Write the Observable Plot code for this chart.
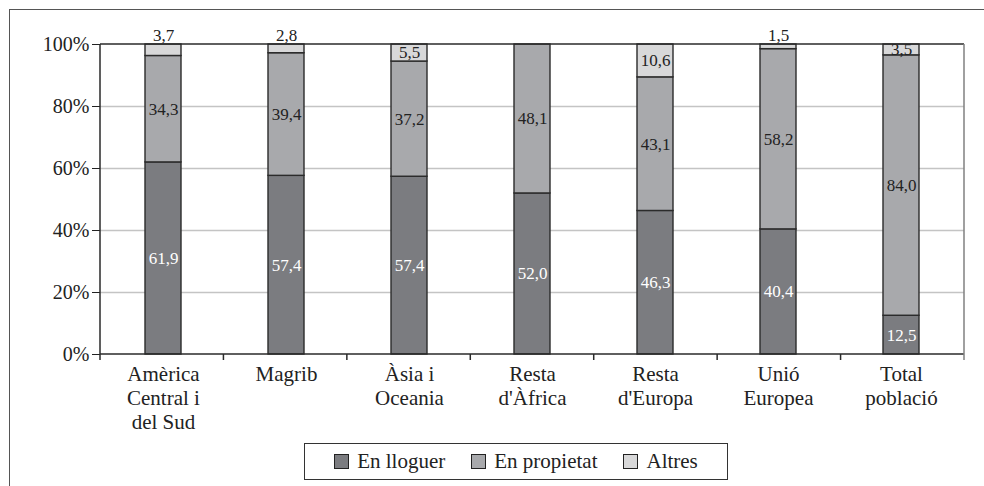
<!DOCTYPE html>
<html><head><meta charset="utf-8">
<style>
body{margin:0;background:#fff;overflow:hidden;}
#wrap{position:relative;width:984px;height:486px;overflow:hidden;background:#fff;}
#wrap, #wrap *{font-family:'Liberation Serif','DejaVu Serif','Noto Serif CJK SC',serif !important;}
#frame{position:absolute;left:9px;top:9px;width:1200px;height:1200px;border-top:1.5px solid #555;border-left:1.5px solid #555;pointer-events:none;}
#chart{position:absolute;left:0;top:0;}
#legend{position:absolute;left:304px;top:443px;width:424px;height:37px;border:1.5px solid #333;box-sizing:border-box;display:flex;align-items:center;justify-content:center;gap:26px;font-size:21px;color:#222;background:#fff;}
.item{display:flex;align-items:center;gap:8px}
.sw{width:15px;height:15px;border:1.3px solid #222;box-sizing:border-box}
</style>
<script src="https://cdn.jsdelivr.net/npm/d3@7"></script>
<script src="https://cdn.jsdelivr.net/npm/@observablehq/plot@0.6"></script>
</head>
<body>
<div id="wrap"><div id="chart"></div><div id="frame"></div><div id="legend"></div></div>
<script>
const categories = ["Amèrica Central i del Sud","Magrib","Àsia i Oceania","Resta d'Àfrica","Resta d'Europa","Unió Europea","Total població"];
const xLabels = ["Amèrica\nCentral i\ndel Sud","Magrib","Àsia i\nOceania","Resta\nd'Àfrica","Resta\nd'Europa","Unió\nEuropea","Total\npoblació"];
const series = ["En lloguer","En propietat","Altres"];
const enLloguer = [61.9,57.4,57.4,52.0,46.3,40.4,12.5];
const enPropietat = [34.3,39.4,37.2,48.1,43.1,58.2,84.0];
const altres = [3.7,2.8,5.5,0,10.6,1.5,3.5];
const colors = ["#7b7c80","#a8a9ac","#d8d8d9"];
const yTicks = [0,20,40,60,80,100];
const altresLabelAbove = ["Amèrica Central i del Sud","Magrib","Unió Europea"];

const serif = "'Liberation Serif', 'DejaVu Serif', 'Noto Serif CJK SC', serif";
const valuesBySeries = [enLloguer, enPropietat, altres];
const data = [];
categories.forEach((c,i)=>series.forEach((s,j)=>{
  const v = valuesBySeries[j][i];
  if (v > 0) data.push({cat:c, type:s, value:v});
}));
const fmt = v => v.toFixed(1).replace(".", ",");
const stackOpts = {x:"cat", y:"value", z:"type", order: series, offset:"normalize"};

const frameMark = (index, scales, values, dims) => {
  const {width, height, marginLeft, marginRight, marginTop, marginBottom} = dims;
  const l = marginLeft, r = width - marginRight, t = marginTop, b = height - marginBottom;
  const step = (r - l) / categories.length;
  const g = d3.create("svg:g");
  g.append("line").attr("x1", l).attr("x2", r).attr("y1", t).attr("y2", t).attr("stroke", "#2a2a2a").attr("stroke-width", 1.5);
  g.append("line").attr("x1", l).attr("x2", r).attr("y1", b).attr("y2", b).attr("stroke", "#2a2a2a").attr("stroke-width", 1.5);
  g.append("line").attr("x1", r).attr("x2", r).attr("y1", t).attr("y2", b + 6).attr("stroke", "#808080").attr("stroke-width", 1.5);
  g.append("line").attr("x1", l).attr("x2", l).attr("y1", t).attr("y2", b + 6).attr("stroke", "#2a2a2a").attr("stroke-width", 1.5);
  for (let k = 1; k < categories.length; k++) {
    const x = l + k * step;
    g.append("line").attr("x1", x).attr("x2", x).attr("y1", b).attr("y2", b + 6).attr("stroke", "#2a2a2a").attr("stroke-width", 1.5);
  }
  return g.node();
};

const chart = Plot.plot({
  width: 984, height: 440,
  marginLeft: 100, marginRight: 20, marginTop: 44, marginBottom: 86,
  style: {fontFamily: serif, color: "#222", background: "transparent"},
  x: {domain: categories, paddingInner: 0.71, paddingOuter: 0.355, label: null},
  y: {domain: [0, 1], label: null},
  color: {domain: series, range: colors},
  marks: [
    Plot.gridY(yTicks.slice(1, -1).map(t => t / 100), {stroke: "#c4c4c4", strokeOpacity: 1, strokeWidth: 1.3}),
    Plot.barY(data, Plot.stackY({...stackOpts, fill: "type", stroke: "#2b2b2b", strokeWidth: 1.4})),
    Plot.text(data, Plot.stackY({...stackOpts, text: d => d.type === "En lloguer" ? fmt(d.value) : null, fill: "white", fontSize: 17, fontFamily: serif})),
    Plot.text(data, Plot.stackY({...stackOpts, text: d => d.type === "En propietat" || (d.type === "Altres" && !altresLabelAbove.includes(d.cat)) ? fmt(d.value) : null, fill: "#222", fontSize: 17, fontFamily: serif})),
    Plot.text(data, Plot.stackY2({...stackOpts, text: d => d.type === "Altres" && altresLabelAbove.includes(d.cat) ? fmt(d.value) : null, fill: "#222", fontSize: 17, fontFamily: serif, lineAnchor: "bottom", dy: -4})),
    Plot.axisY(yTicks.map(t => t / 100), {tickFormat: d => Math.round(d * 100) + "%", tickSize: 8, tickPadding: 3, fontSize: 20, fontFamily: serif, label: null}),
    Plot.axisX({tickSize: 0, tickPadding: 9, fontSize: 21, fontFamily: serif, lineHeight: 1.15, tickFormat: d => xLabels[categories.indexOf(d)], label: null}),
    frameMark
  ]
});
document.getElementById("chart").appendChild(chart);

const legend = d3.select("#legend");
series.forEach((s, i) => {
  const it = legend.append("div").attr("class", "item");
  it.append("div").attr("class", "sw").style("background", colors[i]);
  it.append("span").text(s);
});
</script>
</body></html>
